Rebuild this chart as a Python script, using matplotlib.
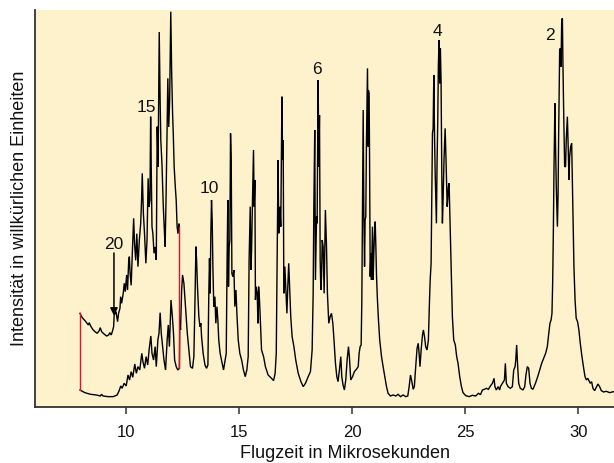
import matplotlib
matplotlib.use("Agg")
import matplotlib.pyplot as plt

plt.rcParams['font.family'] = ['Liberation Sans', 'DejaVu Sans']

# Flight time (microseconds) and signal (arbitrary units) of the full trace
lower_time = [
    7.98, 8.19, 8.45, 8.70, 8.88, 8.93, 9.00, 9.22, 9.45, 9.62, 9.71, 9.78, 9.84, 9.93,
    10.02, 10.10, 10.17, 10.24, 10.31, 10.40, 10.47, 10.54, 10.62, 10.71, 10.76, 10.83,
    10.90, 10.97, 11.04, 11.11, 11.16, 11.23, 11.30, 11.35, 11.42, 11.47, 11.52, 11.57,
    11.64, 11.69, 11.76, 11.83, 11.88, 11.93, 12.00, 12.06, 12.11, 12.16, 12.23, 12.30,
    12.37, 12.39, 12.42, 12.47, 12.51, 12.57, 12.61, 12.66, 12.72, 12.79, 12.86, 12.95,
    13.01, 13.06, 13.10, 13.13, 13.17, 13.23, 13.28, 13.32, 13.35, 13.42, 13.50, 13.57,
    13.63, 13.67, 13.70, 13.73, 13.76, 13.79, 13.82, 13.85, 13.89, 13.94, 13.98, 14.03,
    14.07, 14.11, 14.17, 14.23, 14.32, 14.38, 14.44, 14.48, 14.51, 14.54, 14.57, 14.60,
    14.63, 14.66, 14.69, 14.73, 14.78, 14.82, 14.87, 14.91, 14.97, 15.04, 15.12, 15.20,
    15.28, 15.35, 15.41, 15.45, 15.50, 15.53, 15.56, 15.60, 15.645, 15.675, 15.705, 15.73,
    15.76, 15.81, 15.84, 15.87, 15.91, 15.95, 16.00, 16.09, 16.17, 16.29, 16.44, 16.53,
    16.60, 16.65, 16.69, 16.73, 16.76, 16.81, 16.85, 16.90, 16.93, 16.955, 16.985, 17.03,
    17.07, 17.12, 17.16, 17.20, 17.25, 17.29, 17.35, 17.43, 17.51, 17.62, 17.74, 17.84,
    17.94, 18.06, 18.16, 18.235, 18.28, 18.31, 18.35, 18.38, 18.43, 18.455, 18.50, 18.53,
    18.56, 18.59, 18.62, 18.65, 18.68, 18.72, 18.765, 18.82, 18.87, 18.91, 18.97, 19.03,
    19.09, 19.15, 19.21, 19.265, 19.325, 19.38, 19.44, 19.50, 19.545, 19.60, 19.66, 19.72,
    19.78, 19.84, 19.88, 19.94, 20.02, 20.10, 20.19, 20.27, 20.31, 20.355, 20.40, 20.43,
    20.46, 20.49, 20.52, 20.55, 20.575, 20.605, 20.635, 20.68, 20.71, 20.72, 20.75, 20.77,
    20.80, 20.83, 20.855, 20.90, 20.93, 20.96, 20.99, 21.02, 21.05, 21.08, 21.12, 21.165,
    21.22, 21.30, 21.37, 21.445, 21.52, 21.59, 21.695, 21.81, 21.93, 22.03, 22.14, 22.25,
    22.37, 22.46, 22.52, 22.58, 22.64, 22.70, 22.75, 22.81, 22.87, 22.92, 22.96, 23.00,
    23.05, 23.11, 23.15, 23.20, 23.25, 23.31, 23.37, 23.42, 23.45, 23.49, 23.52, 23.55,
    23.58, 23.61, 23.64, 23.67, 23.70, 23.725, 23.755, 23.785, 23.81, 23.84, 23.87, 23.90,
    23.93, 23.96, 23.99, 24.02, 24.06, 24.11, 24.15, 24.20, 24.225, 24.255, 24.285, 24.31,
    24.34, 24.39, 24.43, 24.49, 24.56, 24.62, 24.68, 24.755, 24.83, 24.90, 25.02, 25.17,
    25.31, 25.46, 25.58, 25.67, 25.76, 25.845, 25.93, 26.02, 26.11, 26.20, 26.27, 26.31,
    26.37, 26.45, 26.52, 26.55, 26.64, 26.73, 26.77, 26.815, 26.89, 26.99, 27.08, 27.14,
    27.20, 27.23, 27.27, 27.315, 27.36, 27.43, 27.55, 27.625, 27.68, 27.74, 27.80, 27.86,
    27.92, 27.99, 28.10, 28.20, 28.29, 28.375, 28.46, 28.55, 28.625, 28.68, 28.74, 28.79,
    28.83, 28.86, 28.89, 28.92, 28.96, 28.99, 29.02, 29.07, 29.10, 29.125, 29.17, 29.20,
    29.23, 29.26, 29.29, 29.316, 29.35, 29.39, 29.43, 29.46, 29.51, 29.55, 29.58, 29.61,
    29.655, 29.70, 29.73, 29.76, 29.80, 29.85, 29.90, 29.96, 30.02, 30.08, 30.155, 30.23,
    30.29, 30.35, 30.41, 30.465, 30.52, 30.58, 30.64, 30.715, 30.79, 30.86, 30.935, 31.01,
    31.11, 31.23, 31.38, 31.55,
]
lower_signal = [
    5.1, 4.3, 3.8, 3.6, 3.3, 3.8, 3.3, 3.1, 3.1, 3.6, 4.9, 6.3, 5.6, 7.1,
    6.3, 9.6, 8.1, 10.6, 8.9, 12.9, 10.1, 12.1, 11.1, 16.1, 13.6, 11.6,
    15.1, 12.6, 17.6, 21.3, 16.1, 14.1, 18.1, 12.1, 20.1, 22.1, 28.3, 22.1,
    17.6, 14.1, 11.1, 20.1, 24.6, 18.1, 32.1, 27.1, 22.1, 14.1, 12.1, 11.1,
    11.6, 26.1, 23.1, 35.0, 39.6, 37.1, 33.1, 28.1, 22.1, 17.1, 12.1, 11.6,
    15.1, 32.1, 48.1, 44.1, 36.1, 27.1, 24.1, 25.1, 21.1, 16.1, 12.6, 11.6,
    12.6, 34.1, 44.6, 34.1, 52.1, 62.1, 56.1, 42.1, 30.1, 33.1, 25.1, 30.1,
    26.1, 20.1, 16.1, 14.1, 11.1, 13.6, 16.1, 45.1, 62.1, 36.1, 48.1, 50.1,
    82.1, 74.1, 40.1, 39.1, 41.1, 30.1, 35.1, 28.1, 20.1, 16.1, 14.1, 11.1,
    9.1, 11.1, 15.1, 44.1, 60.1, 41.1, 47.1, 62.1, 77.1, 60.1, 68.1, 32.1,
    36.1, 34.1, 25.1, 36.1, 32.1, 25.1, 17.1, 15.1, 12.1, 9.6, 8.6, 7.9,
    10.1, 16.1, 44.1, 74.1, 52.1, 60.1, 54.1, 93.1, 74.1, 80.1, 34.1, 42.1,
    36.1, 28.1, 36.1, 43.1, 34.1, 27.1, 21.1, 18.1, 14.1, 10.1, 7.6, 6.1,
    7.1, 9.1, 10.6, 17.1, 34.1, 60.1, 83.1, 38.1, 57.1, 55.1, 98.1, 72.1,
    87.6, 44.1, 35.1, 39.1, 50.1, 48.1, 34.1, 59.1, 48.1, 34.1, 25.1, 27.1,
    28.1, 25.1, 19.1, 13.1, 9.1, 7.6, 11.1, 15.1, 9.1, 6.6, 5.1, 8.1,
    14.1, 18.1, 15.1, 8.1, 9.1, 10.6, 11.3, 12.1, 16.1, 18.1, 18.6, 32.1,
    63.1, 89.1, 57.1, 42.1, 56.1, 57.1, 80.1, 101.6, 78.1, 95.1, 94.1, 77.1,
    39.1, 46.1, 38.1, 54.1, 38.1, 46.1, 52.1, 55.6, 48.1, 39.1, 32.1, 26.1,
    20.1, 15.1, 12.1, 9.1, 6.1, 4.1, 3.3, 3.6, 3.3, 3.8, 3.1, 3.6,
    3.1, 3.3, 6.1, 9.6, 7.6, 5.3, 6.1, 12.1, 17.6, 19.1, 16.1, 12.1,
    17.1, 21.6, 23.1, 21.1, 18.1, 17.1, 20.1, 32.1, 38.1, 43.1, 62.1, 82.1,
    83.6, 99.6, 82.1, 70.1, 62.1, 55.1, 74.1, 86.1, 102.1, 110.1, 97.1, 107.6,
    98.1, 72.1, 55.1, 62.1, 74.1, 83.6, 74.1, 60.1, 62.1, 66.1, 67.1, 60.1,
    52.1, 37.1, 27.1, 20.1, 18.6, 15.1, 13.1, 9.1, 6.1, 4.3, 3.4, 3.1,
    3.5, 3.3, 4.1, 3.7, 5.1, 5.3, 5.6, 5.3, 6.3, 7.1, 8.6, 6.1,
    5.1, 6.1, 5.1, 6.1, 7.1, 8.1, 13.1, 7.1, 6.1, 5.6, 6.1, 11.1,
    12.1, 14.1, 18.6, 12.1, 7.1, 5.6, 5.1, 6.1, 9.6, 12.1, 11.6, 7.1,
    5.6, 5.3, 7.1, 9.1, 11.1, 13.1, 14.6, 16.1, 18.1, 21.6, 25.1, 26.1,
    28.1, 37.1, 52.1, 72.1, 91.1, 77.1, 66.1, 54.1, 64.1, 82.1, 107.1, 107.6,
    102.1, 116.1, 116.6, 102.1, 87.1, 72.1, 72.1, 80.1, 87.1, 77.1, 68.1, 75.1,
    78.1, 79.1, 68.1, 58.1, 42.1, 32.1, 26.6, 25.6, 23.1, 19.1, 15.1, 11.6,
    9.1, 8.1, 8.6, 7.9, 7.1, 7.6, 5.6, 4.9, 5.9, 6.9, 6.1, 4.9,
    4.5, 4.7, 4.3, 4.6,
]

# Magnified early part of the trace (8 to 12.4 microseconds)
upper_time = [
    7.98, 8.05, 8.13, 8.20, 8.27, 8.35, 8.39, 8.45, 8.54, 8.64, 8.74, 8.83, 8.875,
    8.935, 9.04, 9.155, 9.245, 9.30, 9.36, 9.42, 9.465, 9.49, 9.57, 9.64, 9.685,
    9.745, 9.775, 9.82, 9.89, 9.935, 9.98, 10.04, 10.08, 10.13, 10.16, 10.19, 10.24,
    10.29, 10.35, 10.39, 10.44, 10.49, 10.54, 10.60, 10.66, 10.70, 10.73, 10.78, 10.83,
    10.89, 10.94, 10.99, 11.03, 11.07, 11.10, 11.13, 11.16, 11.20, 11.25, 11.30, 11.35,
    11.39, 11.43, 11.48, 11.52, 11.55, 11.60, 11.66, 11.70, 11.74, 11.78, 11.82, 11.86,
    11.90, 11.94, 11.99, 12.03, 12.07, 12.10, 12.14, 12.19, 12.23, 12.27, 12.31, 12.35,
    12.37,
]
upper_signal = [
    28.1, 27.1, 26.4, 25.9, 25.3, 24.6, 25.3, 24.3, 23.3, 22.6, 22.1, 22.9, 23.8,
    22.6, 21.9, 21.3, 21.6, 22.3, 21.6, 22.9, 24.1, 27.6, 28.6, 25.6, 28.1,
    29.6, 33.1, 31.1, 34.1, 37.1, 34.6, 39.6, 35.1, 43.6, 45.1, 40.5, 36.5,
    46.0, 56.6, 49.0, 44.0, 52.0, 42.1, 50.0, 55.0, 62.0, 70.1, 58.0, 52.0,
    43.1, 50.0, 68.6, 60.0, 62.0, 87.1, 70.0, 54.1, 52.0, 46.1, 48.0, 44.1,
    84.1, 72.0, 112.5, 92.0, 80.0, 73.0, 60.1, 54.0, 48.1, 62.0, 80.0, 98.6,
    84.0, 92.1, 118.6, 100.0, 88.0, 82.0, 72.0, 66.0, 62.0, 54.0, 52.0, 55.0,
    54.1,
]

# Number of atoms in the cluster for selected peaks
peak_labels = ["20", "15", "10", "6", "4", "2"]
label_time = [9.45, 10.90, 13.68, 18.46, 23.78, 28.74]
label_signal = [48.6, 89.9, 65.4, 101.3, 112.6, 111.3]

fig = plt.figure(figsize=(6.14, 4.63), dpi=100)
ax = fig.add_axes([0.0573, 0.121, 0.9427, 0.8574])
ax.set_facecolor('#fdf2cc')

ax.plot(lower_time, lower_signal, color='black', lw=1.0, solid_joinstyle='miter')
ax.plot(upper_time, upper_signal, color='black', lw=1.0, solid_joinstyle='miter')

red = '#d8142e'
ax.plot([upper_time[0], lower_time[0]], [upper_signal[0], lower_signal[0]], color=red, lw=1.0)
ax.plot([upper_time[-1], lower_time[50]], [upper_signal[-1], lower_signal[50]], color=red, lw=1.0)

for txt, tx, ty in zip(peak_labels, label_time, label_signal):
    ax.text(tx, ty, txt, ha='center', va='center', fontsize=12.5, color='#111111')

ax.annotate('', xy=(9.48, 27.4), xytext=(9.48, 46.2),
            arrowprops=dict(arrowstyle='-|>', color='black', lw=1.1,
                            mutation_scale=11, shrinkA=0, shrinkB=0))

ax.set_xlim(6.0, 31.57)
ax.set_ylim(0, 119.1)
ax.set_xticks([10, 15, 20, 25, 30])
ax.set_yticks([])
for side in ('top', 'right'):
    ax.spines[side].set_visible(False)
for side in ('left', 'bottom'):
    ax.spines[side].set_color('#333333')
    ax.spines[side].set_linewidth(1.3)
ax.tick_params(axis='x', direction='out', length=5, width=1.1, color='#333333',
               labelsize=12, labelcolor='#111111', pad=8)

xl = ax.set_xlabel('Flugzeit in Mikrosekunden', fontsize=13, color='#111111')
xl.set_va('center')
ax.xaxis.set_label_coords(0.5346, -0.117)
yl = ax.set_ylabel('Intensität in willkürlichen Einheiten', fontsize=13, color='#111111')
yl.set_va('center')
ax.yaxis.set_label_coords(-0.0263, 0.5)

fig.savefig('out.png', dpi=100, facecolor='white')
